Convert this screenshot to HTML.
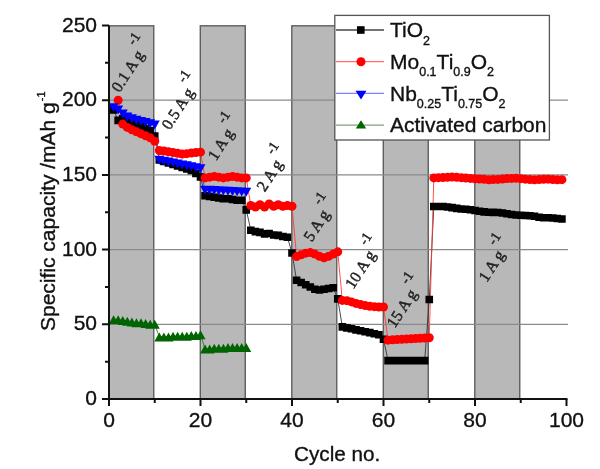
<!DOCTYPE html>
<html><head><meta charset="utf-8"><style>
html,body{margin:0;padding:0;background:#fff;width:600px;height:469px;overflow:hidden}
svg{display:block;filter:blur(0.4px)}
text{font-family:"Liberation Sans",sans-serif;fill:#111;stroke:#111;stroke-width:0.35px}
.bl{font-family:"Liberation Serif",serif;font-size:16px;fill:#222;stroke:#222;stroke-width:0.45px}
</style></head><body>
<svg width="600" height="469" viewBox="0 0 600 469">
<rect x="108.80" y="25.80" width="44.95" height="373.20" fill="#b8b8b8" stroke="#5e5e5e" stroke-width="1.4"/>
<rect x="200.30" y="25.80" width="44.95" height="373.20" fill="#b8b8b8" stroke="#5e5e5e" stroke-width="1.4"/>
<rect x="291.80" y="25.80" width="44.95" height="373.20" fill="#b8b8b8" stroke="#5e5e5e" stroke-width="1.4"/>
<rect x="383.30" y="25.80" width="44.95" height="373.20" fill="#b8b8b8" stroke="#5e5e5e" stroke-width="1.4"/>
<rect x="474.80" y="25.80" width="44.95" height="373.20" fill="#b8b8b8" stroke="#5e5e5e" stroke-width="1.4"/>
<line x1="109.00" y1="324.30" x2="568" y2="324.30" stroke="#8a8a8a" stroke-width="1.2"/>
<line x1="109.00" y1="249.60" x2="568" y2="249.60" stroke="#8a8a8a" stroke-width="1.2"/>
<line x1="109.00" y1="174.90" x2="568" y2="174.90" stroke="#8a8a8a" stroke-width="1.2"/>
<line x1="109.00" y1="100.20" x2="568" y2="100.20" stroke="#8a8a8a" stroke-width="1.2"/>
<text x="131.10" y="65.30" transform="rotate(-57.0 131.10 65.30)" text-anchor="middle" class="bl" dominant-baseline="central">0.1 A g<tspan dx="1.8" dy="-12.8" font-size="14">-1</tspan></text>
<text x="181.30" y="102.80" transform="rotate(-57.0 181.30 102.80)" text-anchor="middle" class="bl" dominant-baseline="central">0.5 A g<tspan dx="1.8" dy="-12.8" font-size="14">-1</tspan></text>
<text x="224.30" y="138.60" transform="rotate(-57.0 224.30 138.60)" text-anchor="middle" class="bl" dominant-baseline="central">1 A g<tspan dx="1.8" dy="-12.8" font-size="14">-1</tspan></text>
<text x="273.10" y="169.60" transform="rotate(-57.0 273.10 169.60)" text-anchor="middle" class="bl" dominant-baseline="central">2 A g<tspan dx="1.8" dy="-12.8" font-size="14">-1</tspan></text>
<text x="320.00" y="219.70" transform="rotate(-57.0 320.00 219.70)" text-anchor="middle" class="bl" dominant-baseline="central">5 A g<tspan dx="1.8" dy="-12.8" font-size="14">-1</tspan></text>
<text x="363.80" y="263.70" transform="rotate(-57.0 363.80 263.70)" text-anchor="middle" class="bl" dominant-baseline="central">10 A g<tspan dx="1.8" dy="-12.8" font-size="14">-1</tspan></text>
<text x="405.30" y="302.60" transform="rotate(-57.0 405.30 302.60)" text-anchor="middle" class="bl" dominant-baseline="central">15 A g<tspan dx="1.8" dy="-12.8" font-size="14">-1</tspan></text>
<text x="494.90" y="260.20" transform="rotate(-57.0 494.90 260.20)" text-anchor="middle" class="bl" dominant-baseline="central">1 A g<tspan dx="1.8" dy="-12.8" font-size="14">-1</tspan></text>
<polyline points="113.58,109.91 118.15,120.37 122.72,118.88 127.30,121.12 131.88,122.61 136.45,124.10 141.03,126.35 145.60,128.59 150.18,130.83 154.75,136.06 159.32,159.96 163.90,161.45 168.47,162.95 173.05,164.44 177.62,165.94 182.20,167.43 186.78,168.92 191.35,170.42 195.93,173.41 200.50,176.99 205.07,195.82 209.65,196.56 214.23,197.31 218.80,198.06 223.38,198.80 227.95,198.80 232.53,199.55 237.10,200.30 241.68,200.30 246.25,209.86 250.83,230.18 255.40,231.67 259.98,232.42 264.55,233.91 269.12,233.46 273.70,234.96 278.27,235.41 282.85,236.45 287.43,237.20 292.00,253.04 296.58,280.23 301.15,282.47 305.73,284.71 310.30,286.95 314.88,289.19 319.45,289.94 324.02,289.19 328.60,288.44 333.18,287.70 337.75,298.90 342.33,326.84 346.90,327.89 351.48,328.78 356.05,329.83 360.62,330.72 365.20,331.77 369.78,332.67 374.35,333.71 378.93,334.76 383.50,339.24 388.07,360.60 392.65,360.60 397.23,360.60 401.80,360.60 406.38,360.60 410.95,360.60 415.53,360.60 420.10,360.60 424.68,360.60 429.25,299.50 433.82,206.57 438.40,206.57 442.98,206.56 447.55,207.00 452.12,207.60 456.70,208.34 461.28,208.93 465.85,209.22 470.43,209.82 475.00,210.56 479.57,211.30 484.15,211.89 488.73,212.19 493.30,212.33 497.88,212.47 502.45,213.07 507.03,213.81 511.60,214.55 516.17,214.99 520.75,215.29 525.33,215.43 529.90,215.72 534.48,216.32 539.05,217.21 543.62,217.80 548.20,217.79 552.78,217.94 557.35,218.53 561.92,218.97" fill="none" stroke="#333" stroke-width="0.9"/>
<polyline points="118.15,100.20 122.72,124.10 127.30,127.39 131.88,129.78 136.45,131.87 141.03,133.81 145.60,135.76 150.18,137.85 154.75,141.29 159.32,150.55 163.90,151.00 168.47,151.74 173.05,152.49 177.62,153.24 182.20,153.98 186.78,153.69 191.35,153.09 195.93,152.49 200.50,152.19 205.07,177.89 209.65,177.14 214.23,176.39 218.80,177.14 223.38,177.89 227.95,177.14 232.53,176.39 237.10,177.14 241.68,177.89 246.25,177.89 250.83,205.53 255.40,207.02 259.98,204.78 264.55,207.02 269.12,204.03 273.70,206.27 278.27,204.78 282.85,206.27 287.43,205.53 292.00,206.27 296.58,256.62 301.15,254.83 305.73,253.19 310.30,252.59 314.88,254.08 319.45,256.32 324.02,257.82 328.60,256.32 333.18,254.08 337.75,251.84 342.33,300.40 346.90,300.69 351.48,301.89 356.05,303.38 360.62,304.58 365.20,305.62 369.78,306.37 374.35,306.67 378.93,306.97 383.50,306.97 388.07,340.14 392.65,339.87 397.23,339.61 401.80,339.34 406.38,339.07 410.95,338.81 415.53,338.54 420.10,338.28 424.68,338.01 429.25,337.75 433.82,177.89 438.40,177.65 442.98,177.57 447.55,177.33 452.12,177.10 456.70,177.31 461.28,177.67 465.85,178.04 470.43,178.40 475.00,178.76 479.57,178.98 484.15,179.34 488.73,179.70 493.30,179.62 497.88,179.38 502.45,179.00 507.03,178.61 511.60,178.38 516.17,178.29 520.75,178.66 525.33,179.17 529.90,179.53 534.48,179.74 539.05,179.51 543.62,179.28 548.20,179.19 552.78,179.55 557.35,179.77 561.92,179.68" fill="none" stroke="#ff3b3b" stroke-width="0.9"/>
<polyline points="113.58,107.67 118.15,109.91 122.72,113.94 127.30,116.93 131.88,118.73 136.45,120.22 141.03,121.41 145.60,122.61 150.18,123.81 154.75,125.00 159.32,160.26 163.90,161.19 168.47,162.12 173.05,163.05 177.62,163.98 182.20,164.91 186.78,165.84 191.35,166.77 195.93,167.70 200.50,168.63 205.07,190.14 209.65,190.37 214.23,190.60 218.80,190.84 223.38,191.07 227.95,191.30 232.53,191.53 237.10,191.77 241.68,192.00 246.25,192.23" fill="none" stroke="#3b3bff" stroke-width="0.9"/>
<polyline points="113.58,319.82 118.15,319.82 122.72,320.56 127.30,321.31 131.88,322.06 136.45,322.81 141.03,322.81 145.60,323.55 150.18,324.30 154.75,324.30 159.32,337.00 163.90,337.00 168.47,337.00 173.05,336.25 177.62,336.25 182.20,336.25 186.78,336.25 191.35,335.50 195.93,335.50 200.50,334.76 205.07,348.95 209.65,348.95 214.23,348.20 218.80,348.20 223.38,348.20 227.95,347.46 232.53,347.46 237.10,347.46 241.68,347.46 246.25,347.46" fill="none" stroke="#2a7a2a" stroke-width="0.9"/>
<path d="M109.78 106.11h7.6v7.6h-7.6zM114.35 116.57h7.6v7.6h-7.6zM118.92 115.08h7.6v7.6h-7.6zM123.50 117.32h7.6v7.6h-7.6zM128.07 118.81h7.6v7.6h-7.6zM132.65 120.30h7.6v7.6h-7.6zM137.22 122.55h7.6v7.6h-7.6zM141.80 124.79h7.6v7.6h-7.6zM146.38 127.03h7.6v7.6h-7.6zM150.95 132.26h7.6v7.6h-7.6zM155.52 156.16h7.6v7.6h-7.6zM160.10 157.65h7.6v7.6h-7.6zM164.67 159.15h7.6v7.6h-7.6zM169.25 160.64h7.6v7.6h-7.6zM173.82 162.14h7.6v7.6h-7.6zM178.40 163.63h7.6v7.6h-7.6zM182.97 165.12h7.6v7.6h-7.6zM187.55 166.62h7.6v7.6h-7.6zM192.12 169.61h7.6v7.6h-7.6zM196.70 173.19h7.6v7.6h-7.6zM201.27 192.02h7.6v7.6h-7.6zM205.85 192.76h7.6v7.6h-7.6zM210.43 193.51h7.6v7.6h-7.6zM215.00 194.26h7.6v7.6h-7.6zM219.57 195.00h7.6v7.6h-7.6zM224.15 195.00h7.6v7.6h-7.6zM228.72 195.75h7.6v7.6h-7.6zM233.30 196.50h7.6v7.6h-7.6zM237.88 196.50h7.6v7.6h-7.6zM242.45 206.06h7.6v7.6h-7.6zM247.03 226.38h7.6v7.6h-7.6zM251.60 227.87h7.6v7.6h-7.6zM256.18 228.62h7.6v7.6h-7.6zM260.75 230.11h7.6v7.6h-7.6zM265.32 229.66h7.6v7.6h-7.6zM269.90 231.16h7.6v7.6h-7.6zM274.47 231.61h7.6v7.6h-7.6zM279.05 232.65h7.6v7.6h-7.6zM283.62 233.40h7.6v7.6h-7.6zM288.20 249.24h7.6v7.6h-7.6zM292.78 276.43h7.6v7.6h-7.6zM297.35 278.67h7.6v7.6h-7.6zM301.93 280.91h7.6v7.6h-7.6zM306.50 283.15h7.6v7.6h-7.6zM311.07 285.39h7.6v7.6h-7.6zM315.65 286.14h7.6v7.6h-7.6zM320.22 285.39h7.6v7.6h-7.6zM324.80 284.64h7.6v7.6h-7.6zM329.38 283.90h7.6v7.6h-7.6zM333.95 295.10h7.6v7.6h-7.6zM338.53 323.04h7.6v7.6h-7.6zM343.10 324.09h7.6v7.6h-7.6zM347.68 324.98h7.6v7.6h-7.6zM352.25 326.03h7.6v7.6h-7.6zM356.82 326.92h7.6v7.6h-7.6zM361.40 327.97h7.6v7.6h-7.6zM365.98 328.87h7.6v7.6h-7.6zM370.55 329.91h7.6v7.6h-7.6zM375.12 330.96h7.6v7.6h-7.6zM379.70 335.44h7.6v7.6h-7.6zM384.27 356.80h7.6v7.6h-7.6zM388.85 356.80h7.6v7.6h-7.6zM393.43 356.80h7.6v7.6h-7.6zM398.00 356.80h7.6v7.6h-7.6zM402.57 356.80h7.6v7.6h-7.6zM407.15 356.80h7.6v7.6h-7.6zM411.73 356.80h7.6v7.6h-7.6zM416.30 356.80h7.6v7.6h-7.6zM420.88 356.80h7.6v7.6h-7.6zM425.45 295.70h7.6v7.6h-7.6zM430.02 202.77h7.6v7.6h-7.6zM434.60 202.77h7.6v7.6h-7.6zM439.18 202.76h7.6v7.6h-7.6zM443.75 203.20h7.6v7.6h-7.6zM448.32 203.80h7.6v7.6h-7.6zM452.90 204.54h7.6v7.6h-7.6zM457.48 205.13h7.6v7.6h-7.6zM462.05 205.42h7.6v7.6h-7.6zM466.62 206.02h7.6v7.6h-7.6zM471.20 206.76h7.6v7.6h-7.6zM475.77 207.50h7.6v7.6h-7.6zM480.35 208.09h7.6v7.6h-7.6zM484.93 208.39h7.6v7.6h-7.6zM489.50 208.53h7.6v7.6h-7.6zM494.07 208.67h7.6v7.6h-7.6zM498.65 209.27h7.6v7.6h-7.6zM503.23 210.01h7.6v7.6h-7.6zM507.80 210.75h7.6v7.6h-7.6zM512.38 211.19h7.6v7.6h-7.6zM516.95 211.49h7.6v7.6h-7.6zM521.53 211.63h7.6v7.6h-7.6zM526.10 211.92h7.6v7.6h-7.6zM530.68 212.52h7.6v7.6h-7.6zM535.25 213.41h7.6v7.6h-7.6zM539.83 214.00h7.6v7.6h-7.6zM544.40 213.99h7.6v7.6h-7.6zM548.98 214.14h7.6v7.6h-7.6zM553.55 214.73h7.6v7.6h-7.6zM558.12 215.17h7.6v7.6h-7.6z" fill="#000"/>
<circle cx="118.15" cy="100.20" r="4.5" fill="#ff0000"/><circle cx="122.72" cy="124.10" r="4.5" fill="#ff0000"/><circle cx="127.30" cy="127.39" r="4.5" fill="#ff0000"/><circle cx="131.88" cy="129.78" r="4.5" fill="#ff0000"/><circle cx="136.45" cy="131.87" r="4.5" fill="#ff0000"/><circle cx="141.03" cy="133.81" r="4.5" fill="#ff0000"/><circle cx="145.60" cy="135.76" r="4.5" fill="#ff0000"/><circle cx="150.18" cy="137.85" r="4.5" fill="#ff0000"/><circle cx="154.75" cy="141.29" r="4.5" fill="#ff0000"/><circle cx="159.32" cy="150.55" r="4.5" fill="#ff0000"/><circle cx="163.90" cy="151.00" r="4.5" fill="#ff0000"/><circle cx="168.47" cy="151.74" r="4.5" fill="#ff0000"/><circle cx="173.05" cy="152.49" r="4.5" fill="#ff0000"/><circle cx="177.62" cy="153.24" r="4.5" fill="#ff0000"/><circle cx="182.20" cy="153.98" r="4.5" fill="#ff0000"/><circle cx="186.78" cy="153.69" r="4.5" fill="#ff0000"/><circle cx="191.35" cy="153.09" r="4.5" fill="#ff0000"/><circle cx="195.93" cy="152.49" r="4.5" fill="#ff0000"/><circle cx="200.50" cy="152.19" r="4.5" fill="#ff0000"/><circle cx="205.07" cy="177.89" r="4.5" fill="#ff0000"/><circle cx="209.65" cy="177.14" r="4.5" fill="#ff0000"/><circle cx="214.23" cy="176.39" r="4.5" fill="#ff0000"/><circle cx="218.80" cy="177.14" r="4.5" fill="#ff0000"/><circle cx="223.38" cy="177.89" r="4.5" fill="#ff0000"/><circle cx="227.95" cy="177.14" r="4.5" fill="#ff0000"/><circle cx="232.53" cy="176.39" r="4.5" fill="#ff0000"/><circle cx="237.10" cy="177.14" r="4.5" fill="#ff0000"/><circle cx="241.68" cy="177.89" r="4.5" fill="#ff0000"/><circle cx="246.25" cy="177.89" r="4.5" fill="#ff0000"/><circle cx="250.83" cy="205.53" r="4.5" fill="#ff0000"/><circle cx="255.40" cy="207.02" r="4.5" fill="#ff0000"/><circle cx="259.98" cy="204.78" r="4.5" fill="#ff0000"/><circle cx="264.55" cy="207.02" r="4.5" fill="#ff0000"/><circle cx="269.12" cy="204.03" r="4.5" fill="#ff0000"/><circle cx="273.70" cy="206.27" r="4.5" fill="#ff0000"/><circle cx="278.27" cy="204.78" r="4.5" fill="#ff0000"/><circle cx="282.85" cy="206.27" r="4.5" fill="#ff0000"/><circle cx="287.43" cy="205.53" r="4.5" fill="#ff0000"/><circle cx="292.00" cy="206.27" r="4.5" fill="#ff0000"/><circle cx="296.58" cy="256.62" r="4.5" fill="#ff0000"/><circle cx="301.15" cy="254.83" r="4.5" fill="#ff0000"/><circle cx="305.73" cy="253.19" r="4.5" fill="#ff0000"/><circle cx="310.30" cy="252.59" r="4.5" fill="#ff0000"/><circle cx="314.88" cy="254.08" r="4.5" fill="#ff0000"/><circle cx="319.45" cy="256.32" r="4.5" fill="#ff0000"/><circle cx="324.02" cy="257.82" r="4.5" fill="#ff0000"/><circle cx="328.60" cy="256.32" r="4.5" fill="#ff0000"/><circle cx="333.18" cy="254.08" r="4.5" fill="#ff0000"/><circle cx="337.75" cy="251.84" r="4.5" fill="#ff0000"/><circle cx="342.33" cy="300.40" r="4.5" fill="#ff0000"/><circle cx="346.90" cy="300.69" r="4.5" fill="#ff0000"/><circle cx="351.48" cy="301.89" r="4.5" fill="#ff0000"/><circle cx="356.05" cy="303.38" r="4.5" fill="#ff0000"/><circle cx="360.62" cy="304.58" r="4.5" fill="#ff0000"/><circle cx="365.20" cy="305.62" r="4.5" fill="#ff0000"/><circle cx="369.78" cy="306.37" r="4.5" fill="#ff0000"/><circle cx="374.35" cy="306.67" r="4.5" fill="#ff0000"/><circle cx="378.93" cy="306.97" r="4.5" fill="#ff0000"/><circle cx="383.50" cy="306.97" r="4.5" fill="#ff0000"/><circle cx="388.07" cy="340.14" r="4.5" fill="#ff0000"/><circle cx="392.65" cy="339.87" r="4.5" fill="#ff0000"/><circle cx="397.23" cy="339.61" r="4.5" fill="#ff0000"/><circle cx="401.80" cy="339.34" r="4.5" fill="#ff0000"/><circle cx="406.38" cy="339.07" r="4.5" fill="#ff0000"/><circle cx="410.95" cy="338.81" r="4.5" fill="#ff0000"/><circle cx="415.53" cy="338.54" r="4.5" fill="#ff0000"/><circle cx="420.10" cy="338.28" r="4.5" fill="#ff0000"/><circle cx="424.68" cy="338.01" r="4.5" fill="#ff0000"/><circle cx="429.25" cy="337.75" r="4.5" fill="#ff0000"/><circle cx="433.82" cy="177.89" r="4.5" fill="#ff0000"/><circle cx="438.40" cy="177.65" r="4.5" fill="#ff0000"/><circle cx="442.98" cy="177.57" r="4.5" fill="#ff0000"/><circle cx="447.55" cy="177.33" r="4.5" fill="#ff0000"/><circle cx="452.12" cy="177.10" r="4.5" fill="#ff0000"/><circle cx="456.70" cy="177.31" r="4.5" fill="#ff0000"/><circle cx="461.28" cy="177.67" r="4.5" fill="#ff0000"/><circle cx="465.85" cy="178.04" r="4.5" fill="#ff0000"/><circle cx="470.43" cy="178.40" r="4.5" fill="#ff0000"/><circle cx="475.00" cy="178.76" r="4.5" fill="#ff0000"/><circle cx="479.57" cy="178.98" r="4.5" fill="#ff0000"/><circle cx="484.15" cy="179.34" r="4.5" fill="#ff0000"/><circle cx="488.73" cy="179.70" r="4.5" fill="#ff0000"/><circle cx="493.30" cy="179.62" r="4.5" fill="#ff0000"/><circle cx="497.88" cy="179.38" r="4.5" fill="#ff0000"/><circle cx="502.45" cy="179.00" r="4.5" fill="#ff0000"/><circle cx="507.03" cy="178.61" r="4.5" fill="#ff0000"/><circle cx="511.60" cy="178.38" r="4.5" fill="#ff0000"/><circle cx="516.17" cy="178.29" r="4.5" fill="#ff0000"/><circle cx="520.75" cy="178.66" r="4.5" fill="#ff0000"/><circle cx="525.33" cy="179.17" r="4.5" fill="#ff0000"/><circle cx="529.90" cy="179.53" r="4.5" fill="#ff0000"/><circle cx="534.48" cy="179.74" r="4.5" fill="#ff0000"/><circle cx="539.05" cy="179.51" r="4.5" fill="#ff0000"/><circle cx="543.62" cy="179.28" r="4.5" fill="#ff0000"/><circle cx="548.20" cy="179.19" r="4.5" fill="#ff0000"/><circle cx="552.78" cy="179.55" r="4.5" fill="#ff0000"/><circle cx="557.35" cy="179.77" r="4.5" fill="#ff0000"/><circle cx="561.92" cy="179.68" r="4.5" fill="#ff0000"/>
<path d="M108.58 103.17L118.58 103.17L113.58 112.17zM113.15 105.41L123.15 105.41L118.15 114.41zM117.72 109.44L127.72 109.44L122.72 118.44zM122.30 112.43L132.30 112.43L127.30 121.43zM126.88 114.23L136.88 114.23L131.88 123.23zM131.45 115.72L141.45 115.72L136.45 124.72zM136.03 116.91L146.03 116.91L141.03 125.91zM140.60 118.11L150.60 118.11L145.60 127.11zM145.18 119.31L155.18 119.31L150.18 128.31zM149.75 120.50L159.75 120.50L154.75 129.50zM154.32 155.76L164.32 155.76L159.32 164.76zM158.90 156.69L168.90 156.69L163.90 165.69zM163.47 157.62L173.47 157.62L168.47 166.62zM168.05 158.55L178.05 158.55L173.05 167.55zM172.62 159.48L182.62 159.48L177.62 168.48zM177.20 160.41L187.20 160.41L182.20 169.41zM181.78 161.34L191.78 161.34L186.78 170.34zM186.35 162.27L196.35 162.27L191.35 171.27zM190.93 163.20L200.93 163.20L195.93 172.20zM195.50 164.13L205.50 164.13L200.50 173.13zM200.07 185.64L210.07 185.64L205.07 194.64zM204.65 185.87L214.65 185.87L209.65 194.87zM209.23 186.10L219.23 186.10L214.23 195.10zM213.80 186.34L223.80 186.34L218.80 195.34zM218.38 186.57L228.38 186.57L223.38 195.57zM222.95 186.80L232.95 186.80L227.95 195.80zM227.53 187.03L237.53 187.03L232.53 196.03zM232.10 187.27L242.10 187.27L237.10 196.27zM236.68 187.50L246.68 187.50L241.68 196.50zM241.25 187.73L251.25 187.73L246.25 196.73z" fill="#0000ff"/>
<path d="M108.58 324.32L118.58 324.32L113.58 315.32zM113.15 324.32L123.15 324.32L118.15 315.32zM117.72 325.06L127.72 325.06L122.72 316.06zM122.30 325.81L132.30 325.81L127.30 316.81zM126.88 326.56L136.88 326.56L131.88 317.56zM131.45 327.31L141.45 327.31L136.45 318.31zM136.03 327.31L146.03 327.31L141.03 318.31zM140.60 328.05L150.60 328.05L145.60 319.05zM145.18 328.80L155.18 328.80L150.18 319.80zM149.75 328.80L159.75 328.80L154.75 319.80zM154.32 341.50L164.32 341.50L159.32 332.50zM158.90 341.50L168.90 341.50L163.90 332.50zM163.47 341.50L173.47 341.50L168.47 332.50zM168.05 340.75L178.05 340.75L173.05 331.75zM172.62 340.75L182.62 340.75L177.62 331.75zM177.20 340.75L187.20 340.75L182.20 331.75zM181.78 340.75L191.78 340.75L186.78 331.75zM186.35 340.00L196.35 340.00L191.35 331.00zM190.93 340.00L200.93 340.00L195.93 331.00zM195.50 339.26L205.50 339.26L200.50 330.26zM200.07 353.45L210.07 353.45L205.07 344.45zM204.65 353.45L214.65 353.45L209.65 344.45zM209.23 352.70L219.23 352.70L214.23 343.70zM213.80 352.70L223.80 352.70L218.80 343.70zM218.38 352.70L228.38 352.70L223.38 343.70zM222.95 351.96L232.95 351.96L227.95 342.96zM227.53 351.96L237.53 351.96L232.53 342.96zM232.10 351.96L242.10 351.96L237.10 342.96zM236.68 351.96L246.68 351.96L241.68 342.96zM241.25 351.96L251.25 351.96L246.25 342.96z" fill="#006400"/>
<line x1="109.00" y1="399.00" x2="109.00" y2="25.50" stroke="#111" stroke-width="2"/>
<line x1="108.00" y1="399.00" x2="567.50" y2="399.00" stroke="#111" stroke-width="2"/>
<path d="M102.00 399.00H109.00M105.00 361.65H109.00M102.00 324.30H109.00M105.00 286.95H109.00M102.00 249.60H109.00M105.00 212.25H109.00M102.00 174.90H109.00M105.00 137.55H109.00M102.00 100.20H109.00M105.00 62.85H109.00M102.00 25.50H109.00M109.00 399.00V406.00M154.75 399.00V403.00M200.50 399.00V406.00M246.25 399.00V403.00M292.00 399.00V406.00M337.75 399.00V403.00M383.50 399.00V406.00M429.25 399.00V403.00M475.00 399.00V406.00M520.75 399.00V403.00M566.50 399.00V406.00" stroke="#111" stroke-width="2" fill="none"/>
<text x="97" y="397.50" text-anchor="end" font-size="21" dominant-baseline="central">0</text>
<text x="97" y="322.80" text-anchor="end" font-size="21" dominant-baseline="central">50</text>
<text x="97" y="248.10" text-anchor="end" font-size="21" dominant-baseline="central">100</text>
<text x="97" y="173.40" text-anchor="end" font-size="21" dominant-baseline="central">150</text>
<text x="97" y="98.70" text-anchor="end" font-size="21" dominant-baseline="central">200</text>
<text x="97" y="24.00" text-anchor="end" font-size="21" dominant-baseline="central">250</text>
<text x="109.00" y="427" text-anchor="middle" font-size="21">0</text>
<text x="200.50" y="427" text-anchor="middle" font-size="21">20</text>
<text x="292.00" y="427" text-anchor="middle" font-size="21">40</text>
<text x="383.50" y="427" text-anchor="middle" font-size="21">60</text>
<text x="475.00" y="427" text-anchor="middle" font-size="21">80</text>
<text x="566.50" y="427" text-anchor="middle" font-size="21">100</text>
<rect x="334.8" y="15.4" width="214.6" height="124.6" fill="#fff" stroke="#555" stroke-width="1.3"/>
<line x1="336" y1="30.00" x2="384" y2="30.00" stroke="#444" stroke-width="1.3"/>
<rect x="357" y="26.20" width="7.6" height="7.6" fill="#000"/>
<text x="390" y="37.20" font-size="21">TiO<tspan font-size="12.5" dy="7.5">2</tspan></text>
<line x1="336" y1="61.70" x2="384" y2="61.70" stroke="#ff7070" stroke-width="1.3"/>
<circle cx="361" cy="61.70" r="4.5" fill="#ff0000"/>
<text x="390" y="68.90" font-size="21">Mo<tspan font-size="12.5" dy="7.5">0.1</tspan><tspan dy="-7.5">Ti</tspan><tspan font-size="12.5" dy="7.5">0.9</tspan><tspan dy="-7.5">O</tspan><tspan font-size="12.5" dy="7.5">2</tspan></text>
<line x1="336" y1="93.40" x2="384" y2="93.40" stroke="#8080ff" stroke-width="1.3"/>
<path d="M355.5 90.80h11l-5.5 8.6z" fill="#0000ff"/>
<text x="390" y="100.60" font-size="21">Nb<tspan font-size="12.5" dy="7.5">0.25</tspan><tspan dy="-7.5">Ti</tspan><tspan font-size="12.5" dy="7.5">0.75</tspan><tspan dy="-7.5">O</tspan><tspan font-size="12.5" dy="7.5">2</tspan></text>
<line x1="336" y1="125.10" x2="384" y2="125.10" stroke="#80a080" stroke-width="1.3"/>
<path d="M355.8 128.50h10.4l-5.2 -8.3z" fill="#006400"/>
<text x="390" y="132.30" font-size="21">Activated carbon</text>
<text x="294" y="461" font-size="20.7">Cycle no.</text>
<text transform="translate(54.5 331) rotate(-90)" font-size="21">Specific capacity /mAh g<tspan font-size="11" dy="-9.5" dx="1">-1</tspan></text>
</svg>
</body></html>
